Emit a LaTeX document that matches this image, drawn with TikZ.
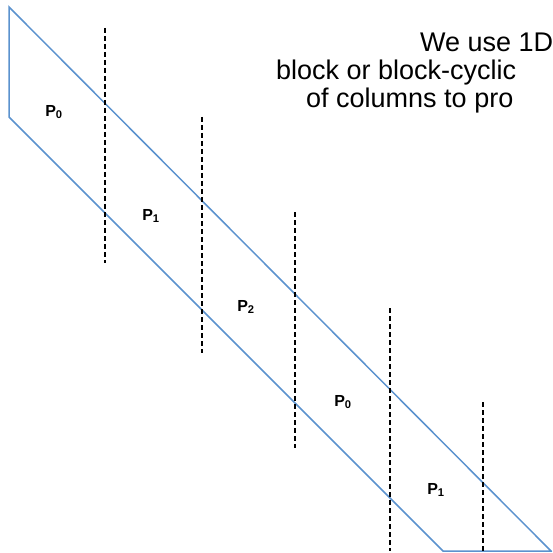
\documentclass[tikz,border=0pt]{standalone}
\usepackage{fontspec}
\setmainfont{Liberation Sans}
\usepackage{tikz}
\usetikzlibrary{positioning, calc}
\definecolor{bandblue}{RGB}{91,146,206}

\begin{document}
\begin{tikzpicture}[x=1pt, y=-1pt,
    band/.style={draw=bandblue, line width=1.5pt, line join=miter},
    cut/.style={draw=black, line width=1.7pt, dash pattern=on 5pt off 3pt},
    proc/.style={font=\fontsize{16}{18}\selectfont\bfseries, inner sep=0pt},
    note/.style={font=\fontsize{27}{30}\selectfont, anchor=base west, inner sep=0pt}
]
\useasboundingbox (0,0) rectangle (552,553);
\clip (0,0) rectangle (552,553);
%% the band of the matrix
\coordinate (NW) at (9,7);
\coordinate (SE) at (551,551);
\coordinate (SW) at (443,551);
\coordinate (W)  at (9,117);
\draw[band] (NW) -- (SE) -- (SW) -- (W) -- cycle;
%% column cuts
\foreach \n/\x/\ya/\yb in {1/105/28/263, 2/202/117/353, 3/295/212/448,
                           4/390/308/551, 5/483/402/551}{
  \coordinate (top\n) at (\x,\ya);
  \coordinate (bot\n) at (\x,\yb);
  \draw[cut] (top\n) -- (bot\n);
}
%% owners of the column blocks
\node[proc] (blk1) at (54,112) {P\textsubscript{0}};
\node[proc] (blk2) at (151,216) {P\textsubscript{1}};
\node[proc] (blk3) at (246,307) {P\textsubscript{2}};
\node[proc] (blk4) at (343,402) {P\textsubscript{0}};
\node[proc] (blk5) at (436,490) {P\textsubscript{1}};
%% remark
\node[note] (line1) at (420,52)  {We use 1D};
\node[note] (line2) at (276,80)  {block or block-cyclic};
\node[note] (line3) at (306,108) {of columns to pro};
\end{tikzpicture}
\end{document}
